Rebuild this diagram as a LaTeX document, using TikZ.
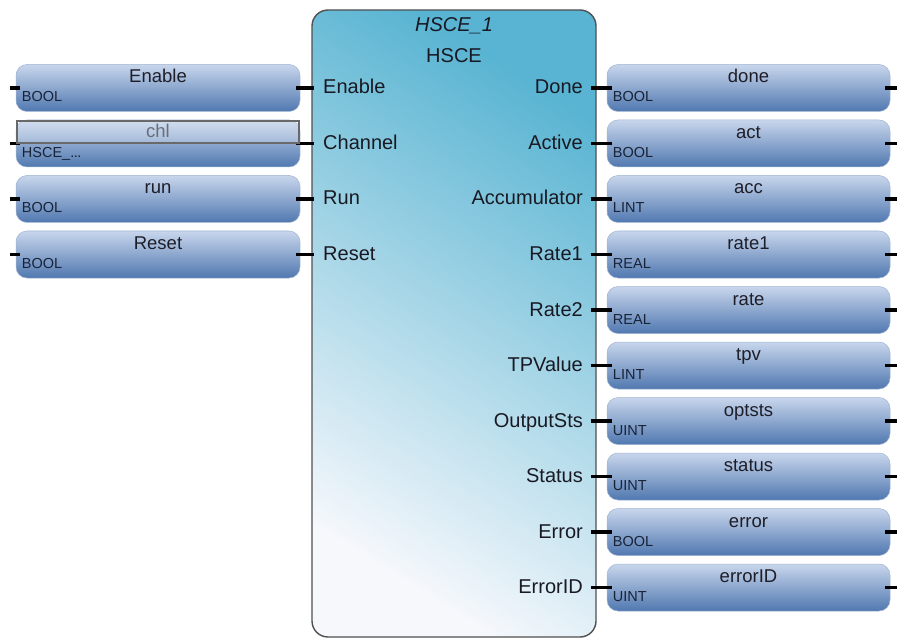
\documentclass[tikz,border=0pt]{standalone}
\usepackage{fontspec}
\setmainfont{Liberation Sans}
\newcommand{\chtypelabel}{HSCE\_.\kern-0.5pt.\kern-0.5pt.}
\begin{document}
\begin{tikzpicture}[x=1pt,y=-1pt,
  varbox/.style={rounded corners=11pt, minimum width=284pt, minimum height=47pt, inner sep=0pt,
    draw={rgb,255:red,160;green,180;blue,210}, line width=0.5pt,
    top color={rgb,255:red,200;green,214;blue,236},
    middle color={rgb,255:red,142;green,171;blue,211},
    bottom color={rgb,255:red,80;green,120;blue,176}},
  fblock/.style={rounded corners=16pt, minimum width=284pt, minimum height=627pt, inner sep=0pt,
    draw={rgb,255:red,80;green,80;blue,80}, line width=1.4pt,
    top color={rgb,255:red,88;green,180;blue,210},
    middle color={rgb,255:red,178;green,214;blue,228},
    bottom color={rgb,255:red,246;green,248;blue,252}, shading angle=-32},
  pinlbl/.style={inner sep=0pt, font=\fontsize{20}{24}\selectfont, text={rgb,255:red,25;green,25;blue,35}},
  namelbl/.style={inner sep=0pt, anchor=base, font=\fontsize{18.5}{22}\selectfont, text={rgb,255:red,30;green,30;blue,40}},
  typelbl/.style={inner sep=0pt, anchor=base west, font=\fontsize{14.5}{17}\selectfont, text={rgb,255:red,25;green,35;blue,55}},
  stub/.style={line width=3.2pt, black}
]
\useasboundingbox (0,0) rectangle (902,639);

% function block
\node[fblock] (fb) at (454,323.5) {};
\node[pinlbl, anchor=base, font=\fontsize{20}{24}\selectfont\itshape] (inst) at (454,32) {HSCE\_1};
\node[pinlbl, anchor=base] (ftype) at (454,63) {HSCE};

% inputs
\foreach \i/\pin/\var/\typ in {1/Enable/Enable/BOOL, 2/Channel/chl/\chtypelabel, 3/Run/run/BOOL, 4/Reset/Reset/BOOL}{
  \pgfmathsetmacro{\yy}{88+55.5*(\i-1)}
  \node[varbox] (in\i) at (158,\yy) {};
  \node[typelbl] (int\i) at ([xshift=6pt,yshift=-14pt]in\i.west) {\typ};
  \node[pinlbl, anchor=base west] (inp\i) at (323,\yy+6) {\pin};
  \draw[stub] ([xshift=-6pt]in\i.west) -- ([xshift=4pt]in\i.west);
  \draw[stub] ([xshift=-4pt]in\i.east) -- ([xshift=3pt]fb.west |- in\i.east);
}
\node[namelbl] (inn1) at ([yshift=5pt]in1.center) {Enable};
\node[namelbl] (inn3) at ([yshift=5pt]in3.center) {run};
\node[namelbl] (inn4) at ([yshift=5pt]in4.center) {Reset};
% edit field over the channel variable
\node[draw={rgb,255:red,105;green,105;blue,105}, line width=1.2pt, fill=white, fill opacity=0.2,
      minimum width=282pt, minimum height=22pt, inner sep=0pt] (edit) at (158,132) {};
\node[namelbl, text={rgb,255:red,105;green,110;blue,120}] (inn2) at (158,138) {chl};

% outputs
\foreach \i/\pin/\var/\typ in {1/Done/done/BOOL, 2/Active/act/BOOL, 3/Accumulator/acc/LINT,
  4/Rate1/rate1/REAL, 5/Rate2/rate/REAL, 6/TPValue/tpv/LINT, 7/OutputSts/optsts/UINT,
  8/Status/status/UINT, 9/Error/error/BOOL, 10/ErrorID/errorID/UINT}{
  \pgfmathsetmacro{\yy}{88+55.5*(\i-1)}
  \node[varbox, minimum width=283pt] (out\i) at (748.5,\yy) {};
  \node[namelbl] (outn\i) at ([yshift=5pt]out\i.center) {\var};
  \node[typelbl] (outt\i) at ([xshift=6pt,yshift=-14pt]out\i.west) {\typ};
  \node[pinlbl, anchor=base east] (outp\i) at (583,\yy+6) {\pin};
  \draw[stub] ([xshift=-6pt]fb.east |- out\i.west) -- ([xshift=5pt]out\i.west);
  \draw[stub] ([xshift=-5pt]out\i.east) -- ([xshift=7pt]out\i.east);
}
\end{tikzpicture}
\end{document}
